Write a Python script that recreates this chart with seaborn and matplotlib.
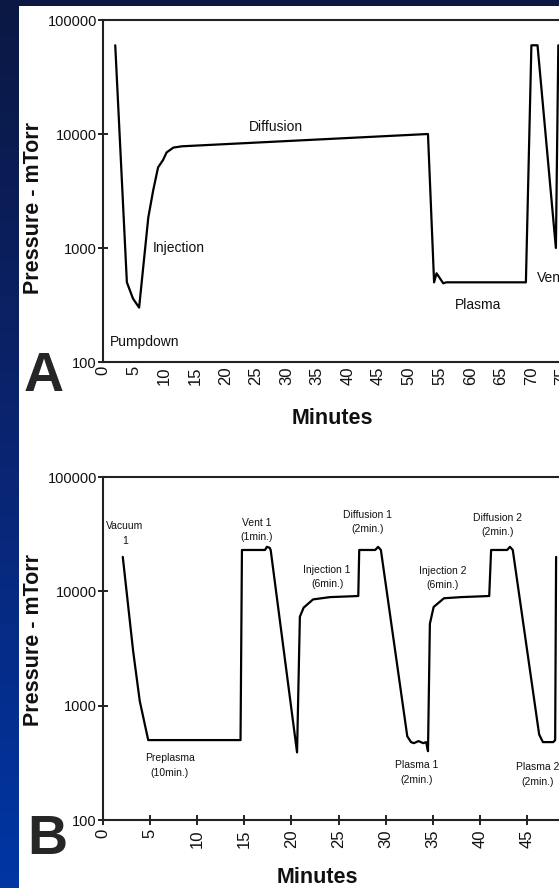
import matplotlib
matplotlib.use("Agg")
import matplotlib.pyplot as plt
import seaborn as sns
import numpy as np
from matplotlib.colors import LinearSegmentedColormap
from matplotlib.patches import Rectangle
from matplotlib.ticker import NullLocator, FixedLocator

W, H = 559, 888

# panel A: one long run (minutes, mTorr)
a_minutes = [2.0, 3.9, 4.9, 5.9, 7.4, 8.2, 9.0, 9.8, 10.4, 11.5, 12.9, 53.1, 54.1,
             54.5, 55.6, 56.1, 69.1, 70.0, 71.0, 74.0, 74.4]
a_mtorr = [60000, 500, 360, 300, 1850, 3200, 5100, 5900, 6900, 7600, 7800, 10000, 500,
           600, 490, 500, 500, 60000, 60000, 1000, 60000]

# panel B: repeated cycles
b_minutes = [2.1, 3.2, 3.9, 4.8, 14.6, 14.75, 17.2, 17.4, 17.7, 17.8, 20.6, 20.9, 21.3,
             22.3, 24.1, 27.1, 27.2, 28.9, 29.2, 29.5, 32.3, 32.7, 33.0, 33.5, 34.0, 34.3,
             34.5, 34.7, 35.1, 36.2, 38.0, 41.0, 41.2, 42.9, 43.2, 43.5, 46.3, 46.7, 47.8,
             48.0, 48.1]
b_mtorr = [20000, 3000, 1100, 500, 500, 23000, 23000, 24500, 24000, 23000, 390, 6000, 7200,
           8500, 8900, 9100, 23000, 23000, 24500, 23000, 540, 480, 470, 490, 470, 480,
           400, 5200, 7300, 8700, 8900, 9100, 23000, 23000, 24500, 23000, 560, 480, 480,
           500, 20000]

# annotations (text, minutes, mTorr)
a_labels = [("Pumpdown", 1.1, 150), ("Injection", 8.2, 1000), ("Diffusion", 28.3, 11500),
            ("Plasma", 61.3, 316), ("Vent", 70.9, 550)]
a_label_ha = ["left", "left", "center", "center", "left"]
b_labels = [("Vacuum\n1", 2.3, 32000), ("Preplasma\n(10min.)", 7.1, 300),
            ("Vent 1\n(1min.)", 16.3, 34400), ("Injection 1\n(6min.)", 23.8, 13400),
            ("Diffusion 1\n(2min.)", 28.1, 40500), ("Plasma 1\n(2min.)", 33.3, 260),
            ("Injection 2\n(6min.)", 36.1, 13100), ("Diffusion 2\n(2min.)", 41.9, 38100),
            ("Plasma 2\n(2min.)", 46.1, 250)]

y_ticks = [100, 1000, 10000, 100000]
y_tick_labels = ["100", "1000", "10000", "100000"]

sns.set_style("ticks")
plt.rcParams["font.family"] = ["Liberation Sans", "DejaVu Sans"]

fig = plt.figure(figsize=(W / 100, H / 100), dpi=100)

# blue slide background with white panel
bg = fig.add_axes([0, 0, 1, 1], zorder=-2)
cmap = LinearSegmentedColormap.from_list("slide", ["#0a1843", "#0a2470", "#0036a4"])
bg.imshow(np.linspace(0, 1, 256)[:, None], aspect="auto", cmap=cmap,
          extent=[0, 1, 0, 1], origin="upper")
bg.set_axis_off()
fig.add_artist(Rectangle((19 / W, 0), 1 - 19 / W, 1 - 6 / H, transform=fig.transFigure,
                         facecolor="white", edgecolor="none", zorder=-1))


def px_box(left, top, bottom, width_px):
    return [left / W, 1 - bottom / H, width_px / W, (bottom - top) / H]


def style_axes(ax, xmax, step):
    ax.set_yscale("log")
    ax.set_ylim(100, 100000)
    ax.set_xlim(0, xmax)
    ax.yaxis.set_major_locator(FixedLocator(y_ticks))
    ax.set_yticklabels(y_tick_labels)
    ax.yaxis.set_minor_locator(NullLocator())
    ax.set_xticks(range(0, xmax + 1, step))
    ax.tick_params(axis="y", direction="inout", length=7, width=1.3, pad=1,
                   labelsize=10.5, colors="#111111")
    ax.tick_params(axis="x", direction="inout", length=7, width=1.3, pad=3,
                   labelsize=12, labelrotation=90, colors="#111111")
    for s in ax.spines.values():
        s.set_linewidth(1.5)
        s.set_color("#222222")
    ax.set_facecolor("none")


label_font = dict(fontsize=15.5, fontweight="bold", color="#111111")

# ---- panel A
ax_a = fig.add_axes(px_box(103, 20, 362, 80 * 6.12))
sns.lineplot(x=a_minutes, y=a_mtorr, ax=ax_a, color="black", linewidth=1.6,
             estimator=None, sort=False)
style_axes(ax_a, 80, 5)
ax_a.tick_params(axis="x", which="major", length=0)
ax_a.xaxis.set_minor_locator(FixedLocator([60]))
ax_a.tick_params(axis="x", which="minor", direction="inout", length=7, width=1.3)
for (txt, xm, yv), ha in zip(a_labels, a_label_ha):
    ax_a.text(xm, yv, txt, ha=ha, va="center", fontsize=10, color="#111111")
ax_a.set_xlabel("Minutes", **label_font)
ax_a.xaxis.set_label_coords((332 - 103) / (80 * 6.12), -(418 - 362) / 342)
ax_a.xaxis.label.set_va("center")
ax_a.set_ylabel("Pressure - mTorr", **label_font)
ax_a.yaxis.set_label_coords((33 - 103) / (80 * 6.12), (362 - 208) / 342)
ax_a.yaxis.label.set_va("center")

# ---- panel B
ax_b = fig.add_axes(px_box(103, 477, 820, 60 * 9.42))
sns.lineplot(x=b_minutes, y=b_mtorr, ax=ax_b, color="black", linewidth=1.6,
             estimator=None, sort=False)
style_axes(ax_b, 60, 5)
for txt, xm, yv in b_labels:
    ax_b.text(xm, yv, txt, ha="center", va="center", fontsize=7.5, linespacing=1.55,
              color="#111111")
ax_b.set_xlabel("Minutes", **label_font)
ax_b.xaxis.set_label_coords((317 - 103) / (60 * 9.42), -(877 - 820) / 343)
ax_b.xaxis.label.set_va("center")
ax_b.set_ylabel("Pressure - mTorr", **label_font)
ax_b.yaxis.set_label_coords((33 - 103) / (60 * 9.42), (820 - 640) / 343)
ax_b.yaxis.label.set_va("center")

# panel letters
fig.text(44 / W, 1 - 377 / H, "A", fontsize=40, fontweight="bold", ha="center", va="center")
fig.text(47 / W, 1 - 840 / H, "B", fontsize=40, fontweight="bold", ha="center", va="center")

fig.savefig("out.png", dpi=100)
plt.close(fig)
